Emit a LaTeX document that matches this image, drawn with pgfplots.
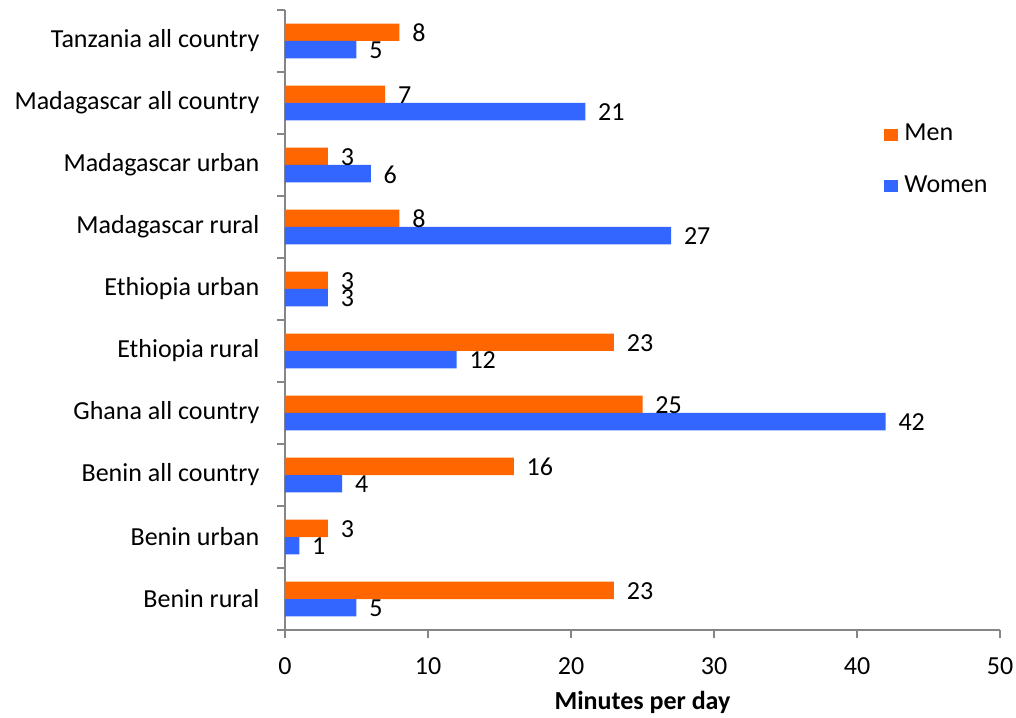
\documentclass[border=0pt]{standalone}
\usepackage{pgfplots}
\pgfplotsset{compat=1.18}
\usepackage{fontspec}
\setmainfont{Carlito}
\definecolor{menc}{HTML}{FF6600}
\definecolor{womc}{HTML}{3366FF}
\definecolor{axc}{HTML}{868686}
\begin{document}
\fontsize{19.5}{23}\selectfont
\begin{tikzpicture}
\path[use as bounding box] (-213.75pt,-65.25pt) rectangle (548.25pt,472.5pt);
\begin{axis}[
  at={(0pt,0pt)}, anchor=south west,
  scale only axis, width=536.25pt, height=465pt,
  xmin=0, xmax=50, ymin=-0.5, ymax=9.5,
  axis lines*=left,
  axis line style={draw=axc, line width=0.9pt},
  xbar, bar width=0.28,
  xtick={0,10,20,30,40,50},
  ytick={0,1,2,3,4,5,6,7,8,9},
  yticklabels={Benin rural, Benin urban, Benin all country, Ghana all country, Ethiopia rural, Ethiopia urban, Madagascar rural, Madagascar urban, Madagascar all country, Tanzania all country},
  minor ytick={-0.5,0.5,...,9.5},
  tick align=outside,
  major tick length=6pt,
  minor tick length=6pt,
  y tick style={draw=none},
  minor y tick style={draw=axc, line width=0.9pt},
  x tick style={draw=axc, line width=0.9pt},
  yticklabel style={xshift=-6.5pt, font=\fontsize{19.5}{23}\selectfont},
  xticklabel style={yshift=-8pt, font=\fontsize{19.5}{23}\selectfont},
  /pgf/number format/assume math mode=true,
  xlabel={\textbf{Minutes per day}},
  xlabel style={font=\fontsize{19.5}{23}\selectfont, yshift=0.5pt},
  nodes near coords,
  nodes near coords style={anchor=west, xshift=3pt, yshift=-0.5pt, font=\fontsize{19.5}{23}\selectfont, text=black},
  legend style={at={(0.838,0.8205)}, anchor=north west, draw=none, fill=none,
    font=\fontsize{19.5}{23}\selectfont, row sep=19pt, column sep=2.5pt, inner sep=0pt},
  legend cell align=left,
  legend image code/.code={\fill[#1,draw=none] (0pt,-4.5pt) rectangle (10.5pt,4pt);},
  clip=false,
]
\addplot[fill=menc, draw=none, bar shift=0.14] coordinates {
(23,0) (3,1) (16,2) (25,3) (23,4) (3,5) (8,6) (3,7) (7,8) (8,9)};
\addlegendentry{Men}
\addplot[fill=womc, draw=none, bar shift=-0.14] coordinates {
(5,0) (1,1) (4,2) (42,3) (12,4) (3,5) (27,6) (6,7) (21,8) (5,9)};
\addlegendentry{Women}
\end{axis}
\end{tikzpicture}
\end{document}
